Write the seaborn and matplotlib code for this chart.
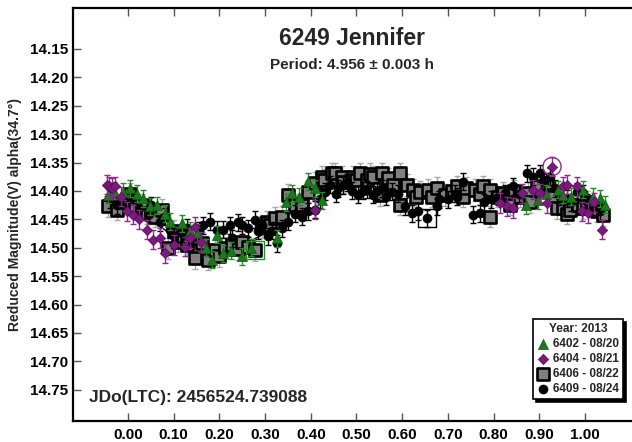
import numpy as np
import pandas as pd
import matplotlib
matplotlib.use("Agg")
import matplotlib.pyplot as plt
import seaborn as sns

# ---------------- data ----------------
sq_phase = [-0.044, -0.024, -0.010, 0.000, 0.005, 0.015, 0.030, 0.041, 0.050, 0.060,
            0.074, 0.088, 0.100, 0.109, 0.120, 0.130, 0.147, 0.161, 0.175, 0.190,
            0.200, 0.212, 0.228, 0.241, 0.250, 0.263, 0.278, 0.293, 0.304, 0.310,
            0.322, 0.337, 0.350, 0.365, 0.380, 0.394, 0.409, 0.424, 0.430, 0.446,
            0.453, 0.468, 0.470, 0.492, 0.500, 0.508, 0.523, 0.530, 0.536, 0.551,
            0.556, 0.569, 0.580, 0.595, 0.595, 0.610, 0.624, 0.630, 0.639, 0.656,
            0.665, 0.676, 0.694, 0.710, 0.720, 0.733, 0.740, 0.759, 0.770, 0.777,
            0.792, 0.792, 0.810, 0.821, 0.836, 0.845, 0.858, 0.875, 0.880, 0.895,
            0.917, 0.930, 0.939, 0.952, 0.960, 0.967, 0.985, 0.995, 1.004, 1.026, 1.039]
sq_mag = [14.427, 14.433, 14.420, 14.413, 14.405, 14.430, 14.425, 14.439, 14.440, 14.445,
          14.433, 14.501, 14.470, 14.489, 14.480, 14.495, 14.518, 14.492, 14.521, 14.504,
          14.515, 14.500, 14.495, 14.502, 14.490, 14.498, 14.504, 14.463, 14.454, 14.460,
          14.448, 14.445, 14.407, 14.425, 14.425, 14.401, 14.386, 14.375, 14.380, 14.369,
          14.369, 14.375, 14.385, 14.375, 14.380, 14.369, 14.381, 14.370, 14.375, 14.407,
          14.369, 14.378, 14.390, 14.369, 14.424, 14.389, 14.398, 14.410, 14.401, 14.398,
          14.410, 14.395, 14.407, 14.400, 14.392, 14.410, 14.395, 14.398, 14.405, 14.392,
          14.398, 14.445, 14.410, 14.404, 14.424, 14.400, 14.410, 14.404, 14.420, 14.392,
          14.386, 14.410, 14.430, 14.430, 14.440, 14.433, 14.424, 14.430, 14.419, 14.436, 14.442]

ci_phase = [-0.040, -0.025, -0.005, 0.010, 0.025, 0.045, 0.050, 0.070, 0.080, 0.092,
            0.100, 0.120, 0.130, 0.140, 0.155, 0.164, 0.179, 0.195, 0.208, 0.223,
            0.228, 0.240, 0.249, 0.263, 0.278, 0.285, 0.293, 0.306, 0.315, 0.326,
            0.337, 0.350, 0.365, 0.380, 0.395, 0.409, 0.420, 0.431, 0.442, 0.455,
            0.460, 0.470, 0.480, 0.490, 0.503, 0.515, 0.523, 0.536, 0.545, 0.555,
            0.565, 0.578, 0.590, 0.606, 0.621, 0.635, 0.654, 0.676, 0.680, 0.700,
            0.715, 0.720, 0.733, 0.755, 0.770, 0.780, 0.795, 0.810, 0.825, 0.843,
            0.855, 0.873, 0.886, 0.902, 0.910, 0.923, 0.935, 0.945, 0.961, 0.970,
            0.982, 0.996, 1.005, 1.018, 1.033]
ci_mag = [14.415, 14.425, 14.420, 14.410, 14.430, 14.440, 14.425, 14.455, 14.445, 14.468,
          14.480, 14.475, 14.465, 14.490, 14.470, 14.460, 14.454, 14.468, 14.468, 14.460,
          14.483, 14.455, 14.460, 14.466, 14.451, 14.470, 14.460, 14.480, 14.470, 14.492,
          14.466, 14.454, 14.440, 14.445, 14.436, 14.433, 14.415, 14.401, 14.389, 14.405,
          14.395, 14.390, 14.385, 14.400, 14.407, 14.400, 14.398, 14.407, 14.400, 14.395,
          14.410, 14.401, 14.405, 14.427, 14.439, 14.436, 14.448, 14.427, 14.415, 14.415,
          14.405, 14.410, 14.384, 14.442, 14.439, 14.420, 14.415, 14.410, 14.404, 14.392,
          14.405, 14.369, 14.375, 14.369, 14.385, 14.375, 14.395, 14.410, 14.413, 14.420,
          14.401, 14.404, 14.420, 14.427, 14.436]

tr_phase = [-0.044, -0.030, -0.011, 0.004, 0.020, 0.033, 0.048, 0.063, 0.080, 0.092,
            0.118, 0.135, 0.151, 0.170, 0.184, 0.195, 0.208, 0.225, 0.249, 0.270,
            0.326, 0.345, 0.359, 0.375, 0.394, 0.410, 0.424, 0.870, 0.897, 0.915,
            0.941, 0.952, 0.970, 0.996, 1.018, 1.033, 1.044]
tr_mag = [14.407, 14.400, 14.401, 14.395, 14.405, 14.413, 14.427, 14.425, 14.440, 14.454,
          14.457, 14.470, 14.474, 14.500, 14.521, 14.477, 14.510, 14.505, 14.515, 14.500,
          14.483, 14.420, 14.404, 14.410, 14.383, 14.395, 14.416, 14.425, 14.416, 14.405,
          14.398, 14.407, 14.410, 14.398, 14.410, 14.413, 14.424]

di_phase = [-0.046, -0.041, -0.035, -0.028, -0.015, -0.002, 0.011, 0.025, 0.042, 0.055,
            0.070, 0.081, 0.100, 0.125, 0.136, 0.147, 0.160, 0.409, 0.814, 0.829,
            0.843, 0.862, 0.886, 0.902, 0.917, 0.928, 0.952, 0.961, 0.982, 0.993,
            1.007, 1.020, 1.037]
di_mag = [14.389, 14.392, 14.395, 14.392, 14.410, 14.436, 14.442, 14.450, 14.468, 14.486,
          14.483, 14.510, 14.495, 14.498, 14.483, 14.463, 14.490, 14.433, 14.421, 14.427,
          14.430, 14.404, 14.398, 14.404, 14.421, 14.357, 14.392, 14.389, 14.392, 14.436,
          14.439, 14.420, 14.468]

sq_err, ci_err, tr_err, di_err = 0.019, 0.015, 0.015, 0.017

fit_phase = [-0.05, 0.00, 0.05, 0.10, 0.15, 0.20, 0.25, 0.30, 0.35, 0.40, 0.45, 0.50,
             0.55, 0.60, 0.65, 0.70, 0.75, 0.80, 0.85, 0.90, 0.95, 1.00, 1.05]
fit_mag = [14.410, 14.420, 14.450, 14.480, 14.495, 14.500, 14.495, 14.475, 14.440, 14.405,
           14.385, 14.380, 14.385, 14.395, 14.405, 14.405, 14.405, 14.405, 14.400, 14.395,
           14.405, 14.420, 14.445]

series_labels = ["6402 - 08/20", "6404 - 08/21", "6406 - 08/22", "6409 - 08/24"]
x_ticks = [0.00, 0.10, 0.20, 0.30, 0.40, 0.50, 0.60, 0.70, 0.80, 0.90, 1.00]
y_ticks = [14.15, 14.20, 14.25, 14.30, 14.35, 14.40, 14.45, 14.50, 14.55, 14.60,
           14.65, 14.70, 14.75]

# ---------------- style ----------------
sns.set_style("white")
plt.rcParams['font.family'] = ['Liberation Sans', 'DejaVu Sans']
plt.rcParams['font.weight'] = 'bold'

W, H = 632, 442
fig = plt.figure(figsize=(W / 100, H / 100), dpi=100)
L, R, T, B = 72.7, 632, 7.5, 421
ax = fig.add_axes([L / W, 1 - B / H, (R - L) / W, (B - T) / H])

ax.set_xlim(-0.121, 1.103)
ax.set_ylim(14.805, 14.077)

# fit curve
sns.lineplot(x=fit_phase, y=fit_mag, ax=ax, color='black', lw=1.0, zorder=2,
             sort=False, legend=False)

def draw(ph, mg, err, marker, face, edge, ecol, ms, lw, label, z):
    ax.errorbar(ph, mg, yerr=err, fmt='none', ecolor=ecol, elinewidth=1.0,
                capsize=2.5, capthick=1.0, zorder=z)
    df = pd.DataFrame({'phase': ph, 'mag': mg})
    sns.scatterplot(data=df, x='phase', y='mag', ax=ax, marker=marker, s=ms,
                    color=face, edgecolor=edge, linewidth=lw, label=label, zorder=z + 0.5)

draw(sq_phase, sq_mag, sq_err, 's', '#808080', 'black', '#a8a8a8', 72, 1.9, series_labels[2], 3)
draw(ci_phase, ci_mag, ci_err, 'o', 'black', 'black', 'black', 42, 0.5, series_labels[3], 4)
draw(tr_phase, tr_mag, tr_err, '^', '#1a7a1a', '#0d5a0d', '#2a8a2a', 52, 0.5, series_labels[0], 5)
draw(di_phase, di_mag, di_err, 'D', '#7a1a7a', '#5a0a5a', '#8a2a8a', 28, 0.5, series_labels[1], 6)

# highlighted points
ax.scatter([0.928], [14.357], s=170, facecolor='none', edgecolor='#8a2a8a', lw=1.0, zorder=7)
ax.scatter([0.654], [14.448], s=160, marker='s', facecolor='none', edgecolor='black', lw=1.0, zorder=7)
ax.scatter([0.278], [14.504], s=160, marker='s', facecolor='none', edgecolor='#2a8a2a', lw=1.0, zorder=7)

# axes styling
for side in ['left', 'bottom', 'top']:
    ax.spines[side].set_linewidth(1.6)
    ax.spines[side].set_color('black')
ax.spines['right'].set_visible(False)

ax.set_xticks(x_ticks)
ax.set_xticklabels([f"{v:.2f}" for v in x_ticks])
ax.set_yticks(y_ticks)
ax.set_yticklabels([f"{v:.2f}" for v in y_ticks])
ax.tick_params(axis='both', direction='in', length=6, width=1.0, color='#555555',
               labelsize=11, labelcolor='black')
ax.tick_params(axis='x', top=True, bottom=True, pad=5)
ax.tick_params(axis='y', left=True, right=False, pad=3)
for lab in ax.get_xticklabels() + ax.get_yticklabels():
    lab.set_fontweight('bold')

ax.set_xlabel('')
ax.set_ylabel('Reduced Magnitude(V) alpha(34.7°)', fontsize=10, fontweight='bold', labelpad=6)

ax.text(0.5, 0.925, '6249 Jennifer', transform=ax.transAxes, ha='center', va='center',
        fontsize=16.5, fontweight='bold')
ax.text(0.5, 0.861, 'Period: 4.956 \u00b1 0.003 h', transform=ax.transAxes, ha='center',
        va='center', fontsize=11, fontweight='bold')
ax.text(0.029, 0.056, 'JDo(LTC): 2456524.739088', transform=ax.transAxes, ha='left',
        va='center', fontsize=12.5, fontweight='bold')

handles, labels = ax.get_legend_handles_labels()
order = [labels.index(s) for s in series_labels]
leg = ax.legend([handles[i] for i in order], [labels[i] for i in order],
                title='Year: 2013', loc='lower right', bbox_to_anchor=(0.99, 0.045),
                fancybox=False, shadow={'color': 'black', 'alpha': 1.0},
                edgecolor='black', framealpha=1, fontsize=8.5, title_fontsize=8.5,
                handletextpad=0.3, borderpad=0.35, labelspacing=0.25,
                handlelength=1.0, borderaxespad=0.3)
leg.get_frame().set_linewidth(1.2)
leg.get_title().set_fontweight('bold')
leg.get_title().set_ha('right')
for t in leg.get_texts():
    t.set_fontweight('bold')
leg.set_zorder(10)

fig.savefig('out.png', dpi=100)
